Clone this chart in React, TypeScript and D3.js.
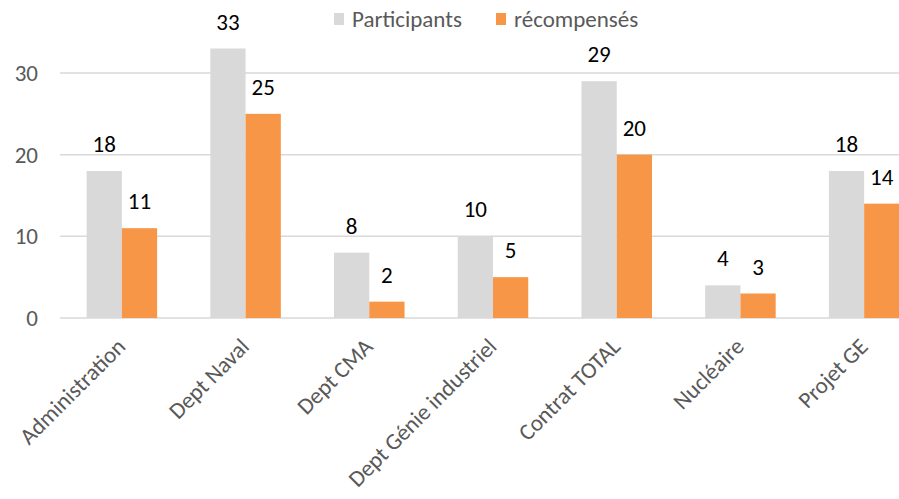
import * as d3 from "d3";

const categories = [
  "Administration",
  "Dept Naval",
  "Dept CMA",
  "Dept Génie industriel",
  "Contrat TOTAL",
  "Nucléaire",
  "Projet GE",
];
const participants = [18, 33, 8, 10, 29, 4, 18];
const recompenses = [11, 25, 2, 5, 20, 3, 14];
const seriesNames = ["Participants", "récompensés"];
const yTicks = [0, 10, 20, 30];

const width = 899;
const height = 499;
const marginLeft = 60;
const plotRight = 926;
const yZero = 318;
const yTop = 73; // value 30

const colors = ["#d9d9d9", "#f79646"];
const font = "Carlito, 'Open Sans', 'Noto Sans', sans-serif";
const fs = 23;

export default function App() {
  const x = d3
    .scaleBand<string>()
    .domain(categories)
    .range([marginLeft, plotRight])
    .paddingInner(0.43)
    .paddingOuter(0.215);
  const x1 = d3
    .scaleBand<number>()
    .domain([0, 1])
    .range([0, x.bandwidth()]);
  const y = d3.scaleLinear([0, 30], [yZero, yTop]);

  const series = [participants, recompenses];

  return (
    <svg
      width={width}
      height={height}
      style={{ position: "absolute", left: 0, top: 0, fontFamily: font }}
    >
      <rect width={width} height={height} fill="white" />
      {/* grid */}
      {yTicks.map((t) => (
        <g key={t}>
          <line
            x1={marginLeft}
            x2={width}
            y1={y(t)}
            y2={y(t)}
            stroke="#d9d9d9"
            strokeWidth={1.5}
          />
          <text
            x={38}
            y={y(t)}
            dy="0.35em"
            textAnchor="end"
            fontSize={fs}
            fill="#595959"
          >
            {t}
          </text>
        </g>
      ))}
      {/* bars */}
      {series.map((vals, s) => (
        <g key={s}>
          {vals.map((v, i) => {
            const bx = (x(categories[i]) ?? 0) + (x1(s) ?? 0);
            return (
              <g key={i}>
                <rect
                  x={bx}
                  y={y(v)}
                  width={x1.bandwidth()}
                  height={yZero - y(v)}
                  fill={colors[s]}
                />
                <text
                  x={bx + x1.bandwidth() / 2}
                  y={y(v) - 19}
                  textAnchor="middle"
                  fontSize={fs}
                  fill="#000"
                >
                  {v}
                </text>
              </g>
            );
          })}
        </g>
      ))}
      {/* x labels */}
      {categories.map((c) => {
        const cx = (x(c) ?? 0) + x.bandwidth() / 2;
        return (
          <text
            key={c}
            transform={`translate(${cx + 5},${348}) rotate(-45)`}
            textAnchor="end"
            fontSize={fs}
            fill="#595959"
          >
            {c}
          </text>
        );
      })}
      {/* legend */}
      {seriesNames.map((n, i) => {
        const lx = i === 0 ? 334 : 496;
        return (
          <g key={n}>
            <rect x={lx} y={13} width={10} height={12} fill={colors[i]} />
            <text x={lx + 18} y={19} dy="0.35em" fontSize={fs} fill="#595959">
              {n}
            </text>
          </g>
        );
      })}
    </svg>
  );
}
